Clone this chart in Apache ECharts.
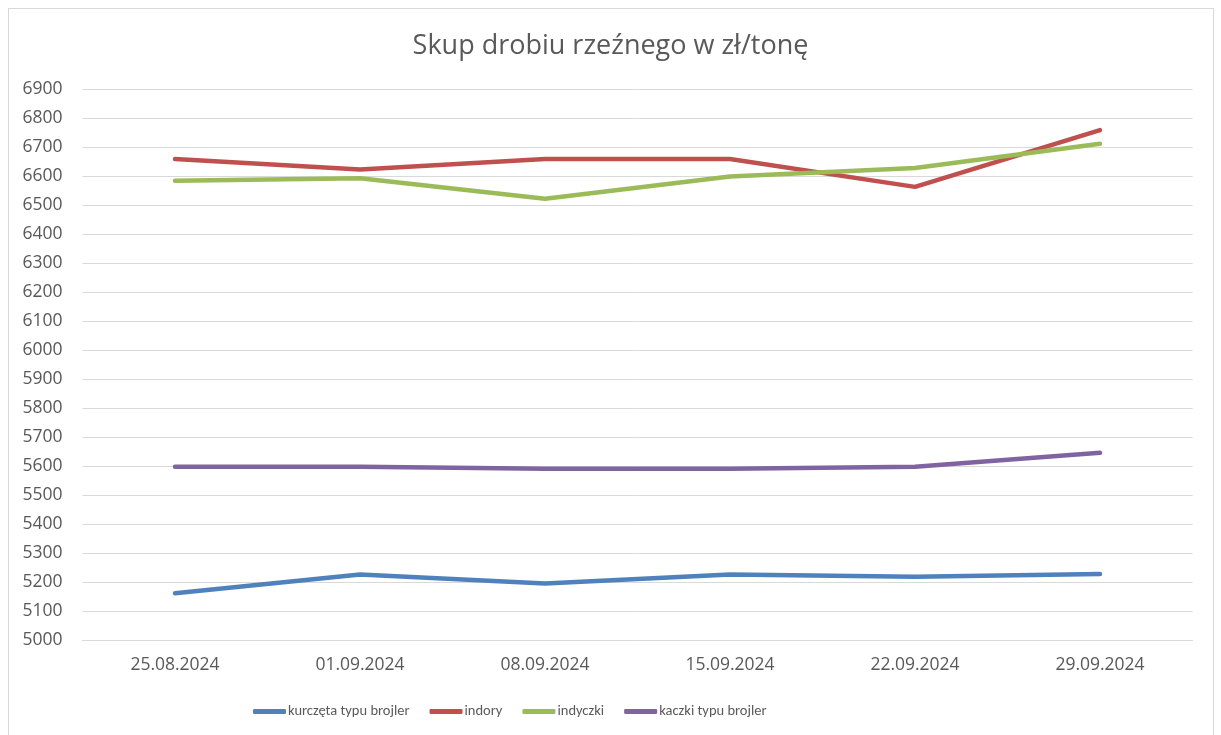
<!DOCTYPE html>
<html>
<head>
    <meta charset="utf-8">
    <title>Skup drobiu</title>
    <script src="https://cdn.jsdelivr.net/npm/echarts@6/dist/echarts.min.js"></script>
    <style>
        html, body { margin: 0; padding: 0; background: #fff; }
        #main { width: 1221px; height: 735px; }
        #frame { position: absolute; left: 8px; top: 8px; width: 1204px; height: 740px; border: 1px solid #d9d9d9; pointer-events: none; }
    </style>
</head>
<body>
<div id="main"></div>
<div id="frame"></div>
<script type="text/javascript">
    // dane
    var dates = ["25.08.2024", "01.09.2024", "08.09.2024", "15.09.2024", "22.09.2024", "29.09.2024"];
    var kurczeta = [5161, 5226, 5195, 5226, 5218, 5228];
    var indory = [6660, 6624, 6660, 6660, 6564, 6760];
    var indyczki = [6585, 6594, 6523, 6600, 6629, 6713];
    var kaczki = [5598, 5598, 5591, 5591, 5598, 5646];

    var font = '"Open Sans", "Noto Sans", sans-serif';
    var legendFont = 'Carlito, "Liberation Sans Narrow", "Open Sans", sans-serif';
    var myChart = echarts.init(document.getElementById('main'));

    function line(name, data, color) {
        return {
            name: name,
            type: 'line',
            data: data,
            symbol: 'none',
            color: color,
            lineStyle: { width: 4.5, color: color, cap: 'round', join: 'round' }
        };
    }

    var option = {
        animation: false,
        textStyle: { fontFamily: font },
        title: {
            text: 'Skup drobiu rzeźnego w zł/tonę',
            left: 'center',
            top: 28,
            textStyle: { fontFamily: font, fontSize: 27, fontWeight: 'normal', color: '#595959' }
        },
        legend: {
            left: 248,
            top: 699,
            itemWidth: 33,
            itemHeight: 5,
            itemGap: 20,
            icon: 'roundRect',
            textStyle: { fontFamily: legendFont, fontSize: 14.5, color: '#595959', padding: [0, 0, 0, -3] },
            data: ['kurczęta typu brojler', 'indory', 'indyczki', 'kaczki typu brojler']
        },
        grid: { left: 82.5, right: 28.5, top: 89.5, bottom: 95, containLabel: false },
        xAxis: {
            type: 'category',
            data: dates,
            boundaryGap: true,
            axisLine: { show: true, lineStyle: { color: '#d9d9d9' } },
            axisTick: { show: false },
            axisLabel: { fontFamily: font, fontSize: 17.5, color: '#595959', margin: 16 }
        },
        yAxis: {
            type: 'value',
            min: 5000,
            max: 6900,
            interval: 100,
            axisLine: { show: false },
            axisTick: { show: false },
            splitLine: { lineStyle: { color: '#d9d9d9', width: 1 } },
            axisLabel: {
                fontFamily: font, fontSize: 17.5, color: '#595959', margin: 20,
                formatter: function (v) { return String(v); }
            }
        },
        series: [
            line('kurczęta typu brojler', kurczeta, '#4f81bd'),
            line('indory', indory, '#c0504d'),
            line('indyczki', indyczki, '#9bbb59'),
            line('kaczki typu brojler', kaczki, '#8064a2')
        ]
    };

    myChart.setOption(option);
</script>
</body>
</html>
